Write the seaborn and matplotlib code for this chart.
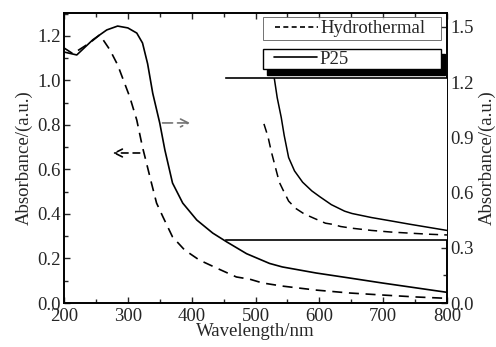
import matplotlib
matplotlib.use("Agg")
import matplotlib.pyplot as plt
from matplotlib.ticker import MultipleLocator, FormatStrFormatter
from matplotlib.lines import Line2D
from matplotlib.legend_handler import HandlerLine2D
import seaborn as sns
import pandas as pd

# ---- data ----
wl_hydro = [200, 214, 241, 256, 272, 284, 303, 314, 323, 328, 337, 345, 355, 370,
            389, 412, 439, 470, 491, 511, 542, 595, 647, 698, 752, 800]
abs_hydro = [1.146, 1.12, 1.17, 1.205, 1.137, 1.07, 0.926, 0.822, 0.70, 0.643, 0.539,
             0.449, 0.387, 0.297, 0.238, 0.193, 0.157, 0.117, 0.107, 0.09, 0.076,
             0.058, 0.045, 0.036, 0.027, 0.021]

wl_p25 = [200, 220, 245, 267, 284, 300, 314, 323, 331, 339, 350, 358, 370, 386, 408,
          433, 455, 486, 522, 542, 595, 647, 698, 752, 800]
abs_p25 = [1.364, 1.348, 1.43, 1.484, 1.505, 1.495, 1.467, 1.413, 1.30, 1.14, 0.978,
           0.832, 0.652, 0.543, 0.451, 0.38, 0.332, 0.268, 0.215, 0.196, 0.163, 0.136,
           0.109, 0.082, 0.058]

series_labels = ["Hydrothermal", "P25"]
x_ticks = [200, 300, 400, 500, 600, 700, 800]
left_ticks = [0.0, 0.2, 0.4, 0.6, 0.8, 1.0, 1.2]
right_ticks = [0.0, 0.3, 0.6, 0.9, 1.2, 1.5]
inset_start = 300

df_h = pd.DataFrame({"wl": wl_hydro, "A": abs_hydro})
df_p = pd.DataFrame({"wl": wl_p25, "A": abs_p25})

sns.set_style("ticks")
plt.rcParams["font.family"] = ["Liberation Serif", "DejaVu Serif"]

FS = 13.5
W, H = 496, 347
fig = plt.figure(figsize=(W / 100, H / 100), dpi=100)
ax = fig.add_axes([64 / W, 1 - 303 / H, (447 - 64) / W, (303 - 13) / H])
ax2 = ax.twinx()

sns.lineplot(data=df_h, x="wl", y="A", ax=ax, color="k", lw=1.2,
             linestyle=(0, (6, 4)), sort=False)
sns.lineplot(data=df_p, x="wl", y="A", ax=ax2, color="k", lw=1.2, sort=False)

ax.set_xlim(200, 800)
ax.set_ylim(0, 1.303)
ax2.set_ylim(0, 1.576)
ax.set_xticks(x_ticks)
ax.set_yticks(left_ticks)
ax2.set_yticks(right_ticks)
ax.xaxis.set_minor_locator(MultipleLocator(50))
ax.yaxis.set_minor_locator(MultipleLocator(0.1))
ax2.yaxis.set_minor_locator(MultipleLocator(0.15))
ax.yaxis.set_major_formatter(FormatStrFormatter("%.1f"))
ax2.yaxis.set_major_formatter(FormatStrFormatter("%.1f"))

for a in (ax, ax2):
    a.tick_params(which="both", direction="in", labelsize=FS, width=1.0, pad=2.5)
    a.tick_params(which="major", length=4)
    a.tick_params(which="minor", length=3)
    for s in a.spines.values():
        s.set_linewidth(1.2)
        s.set_color("k")
ax.tick_params(axis="x", which="both", top=True, pad=3.5)
ax.tick_params(axis="y", which="both", right=False)

ax.set_xlabel("Wavelength/nm", fontsize=FS, labelpad=-1)
ax.set_ylabel("Absorbance/(a.u.)", fontsize=FS, labelpad=3)
ax2.set_ylabel("Absorbance/(a.u.)", fontsize=FS, labelpad=3)

# arrows indicating which axis each curve uses
ax.annotate("", xy=(402, 0.809), xytext=(350, 0.809),
            arrowprops=dict(arrowstyle="->", color="0.45", lw=1.2,
                            linestyle=(0, (6, 3)), mutation_scale=14))
ax.annotate("", xy=(272, 0.674), xytext=(323, 0.674),
            arrowprops=dict(arrowstyle="->", color="k", lw=1.2,
                            linestyle=(0, (4, 3)), mutation_scale=14))

# inset-like zoomed view
axi = fig.add_axes([226 / W, 1 - 240 / H, (447 - 226) / W, (240 - 78) / H])
sns.lineplot(data=df_h[df_h.wl >= inset_start], x="wl", y="A", ax=axi, color="k",
             lw=1.1, linestyle=(0, (6, 4)), sort=False)
sns.lineplot(data=df_p[df_p.wl >= inset_start], x="wl", y="A", ax=axi, color="k",
             lw=1.1, sort=False)
axi.set_xlim(200, 800)
axi.set_ylim(-0.02, 1.3)
axi.set_xticks([])
axi.set_yticks([])
axi.set_xlabel("")
axi.set_ylabel("")
axi.spines["left"].set_visible(False)
axi.spines["right"].set_visible(False)
for s in ("top", "bottom"):
    axi.spines[s].set_linewidth(1.2)
    axi.spines[s].set_color("k")
axi.set_facecolor("white")

# legends
h_hydro = Line2D([], [], color="k", lw=1.2, linestyle=(0, (3, 2)))
h_p25 = Line2D([], [], color="k", lw=1.2)
hmap = {h_hydro: HandlerLine2D(xpad=0.49), h_p25: HandlerLine2D(xpad=0.49)}
common = dict(loc="center", bbox_transform=fig.transFigure, mode="expand",
              fontsize=FS, frameon=True, fancybox=False, handlelength=2.79,
              handletextpad=0.12, borderaxespad=0, handler_map=hmap)
legA = axi.legend([h_hydro], [series_labels[0]],
                  bbox_to_anchor=(263 / W, 1 - 43 / H, (441 - 263) / W, 29 / H),
                  borderpad=0.15, **common)
legA.get_frame().set_edgecolor("0.3")
legA.get_frame().set_linewidth(0.7)
axi.add_artist(legA)
legB = axi.legend([h_p25], [series_labels[1]],
                  bbox_to_anchor=(263 / W, 1 - 72 / H, (441 - 263) / W, 26 / H),
                  borderpad=0.1,
                  shadow={"color": "k", "alpha": 1.0, "ox": 3, "oy": -4}, **common)
legB.get_frame().set_edgecolor("k")
legB.get_frame().set_linewidth(1.0)
legB.get_frame().set_alpha(1)

fig.savefig("out.png", dpi=100)
